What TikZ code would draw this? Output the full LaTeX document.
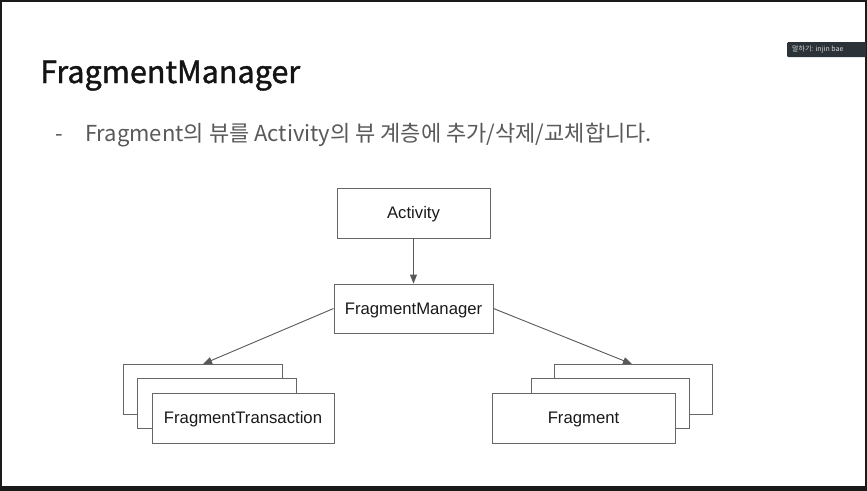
\documentclass[tikz,border=0pt]{standalone}
\usepackage{fontspec}
\setmainfont{Liberation Sans}
\newfontfamily\kr{Noto Sans CJK KR}
\newfontfamily\krtitle[FakeBold=1.3]{Noto Sans CJK KR}
\usetikzlibrary{arrows.meta}
\definecolor{boxline}{HTML}{666666}
\definecolor{arrowc}{HTML}{595959}
\definecolor{subgrey}{HTML}{595959}
\definecolor{frame}{HTML}{1A1A1A}
\definecolor{overlay}{HTML}{2B3238}
\tikzset{
  box/.style={draw=boxline, line width=0.9pt, fill=white, inner sep=0pt, text height=12pt, text depth=0.5pt, font=\fontsize{16.7}{20}\selectfont, text=black!90},
  conn/.style={draw=arrowc, line width=0.9pt, -{Triangle[length=9pt,width=7pt]}},
}
\begin{document}
\begin{tikzpicture}[x=1pt,y=-1pt]
\useasboundingbox (0,0) rectangle (867,490);
% screen frame
\fill[white] (0,0) rectangle (867,490);
\draw[frame, line width=4pt] (0,0) rectangle (867,490);
\fill[frame] (0,486) rectangle (867,490);
% overlay label
\node[fill=overlay, minimum width=79pt, minimum height=15pt, inner sep=0pt, anchor=north west, rounded corners=1pt] (ov) at (787,42) {};
\node[anchor=west, text=white!85!black, inner sep=0pt, font=\kr\fontsize{7}{8}\selectfont] (ovt) at (792,49.5) {말하기: injin bae};
% title
\node[anchor=base west, inner sep=0pt, font=\krtitle\fontsize{30.5}{36}\selectfont, text=black!92] (title) at (40,83) {FragmentManager};
% subtitle
\node[anchor=base west, inner sep=0pt, font=\kr\fontsize{22}{26}\selectfont, text=subgrey] (dash) at (55,141) {-};
\node[anchor=base west, inner sep=0pt, font=\kr\fontsize{22}{26}\selectfont, text=subgrey] (sub) at (85,141) {Fragment의 뷰를 Activity의 뷰 계층에 추가/삭제/교체합니다.};
% main boxes
\node[box, minimum width=153pt, minimum height=50pt] (act) at (413.5,213) {Activity};
\node[box, minimum width=159pt, minimum height=49pt] (fm) at (413.5,308.5) {FragmentManager};
% left stack
\node[box, minimum width=159pt, minimum height=50pt] (ft3) at (202.5,389) {};
\node[box, minimum width=159pt, minimum height=50pt] (ft2) at (216.5,403.5) {};
\node[box, minimum width=182pt, minimum height=50pt] (ft1) at (243,418) {FragmentTransaction};
% right stack
\node[box, minimum width=158pt, minimum height=50pt] (fr3) at (633,389) {};
\node[box, minimum width=158pt, minimum height=50pt] (fr2) at (610,403.5) {};
\node[box, minimum width=183pt, minimum height=50pt] (fr1) at (583.5,418) {Fragment};
% connectors
\draw[conn] (act.south) -- (fm.north);
\coordinate (ltip) at (203,364);
\coordinate (rtip) at (632,364);
\draw[conn] (fm.west) -- (ltip);
\draw[conn] (fm.east) -- (rtip);
\end{tikzpicture}
\end{document}
